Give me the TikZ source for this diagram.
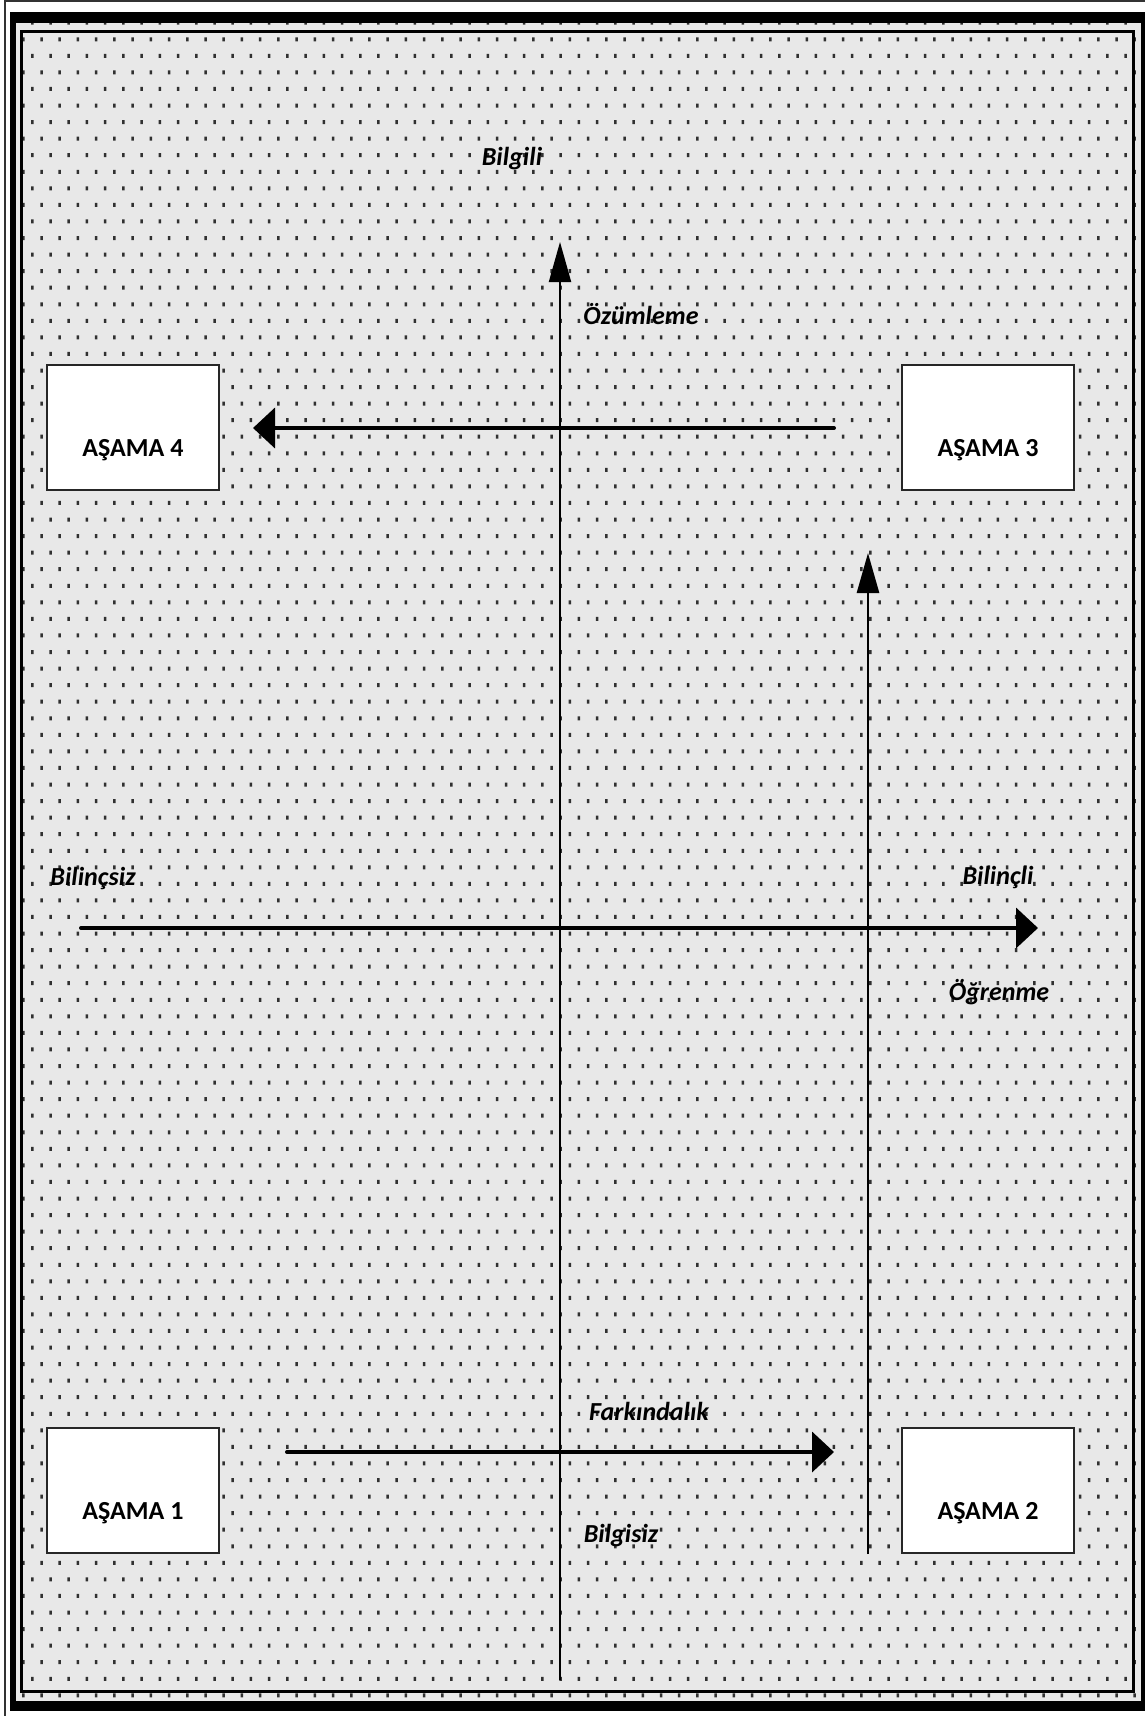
\documentclass[tikz,border=0pt]{standalone}
\usepackage{fontspec}
\setmainfont{Carlito}
\usetikzlibrary{arrows.meta}
\definecolor{bgc}{HTML}{E8E8E8}
\definecolor{dotc}{HTML}{303030}
\tikzset{
  stagebox/.style={draw=black!85, line width=1.8pt, fill=white, minimum width=172pt, minimum height=125pt, inner sep=0pt},
  stagetext/.style={font=\fontsize{26}{30}\selectfont\bfseries, anchor=base, inner sep=0pt},
  axislabel/.style={font=\fontsize{26}{30}\selectfont\bfseries\itshape, anchor=base, inner sep=0pt},
  harrow/.style={line width=4pt, -{Triangle[length=22pt,width=40pt]}},
  varrow/.style={-{Triangle[length=40pt,width=22pt]}}
}
\begin{document}
\begin{tikzpicture}[x=1pt,y=-1pt]
\useasboundingbox (0,0) rectangle (1145,1716);
\fill[white] (0,0) rectangle (1145,1716);
% outer thin lines
\draw[line width=2pt, black!80] (4.5,1716) -- (4.5,1) -- (1145,1);
% thick frame and patterned ground
\fill[black] (10,12) rectangle (1145,1711);
\fill[bgc] (16,23) rectangle (1141,1701);
\begin{scope}
\clip (16,23) rectangle (1141,1701);
\fill[dotc] \foreach \k in {0,...,101}{\foreach \j in {-1,...,61}{ ({32.3-9*mod(\k,2)+18.22*\j-1.25},{22.74+16.56*\k-2}) rectangle ++(2.5,4)}};
\end{scope}
\draw[line width=3pt] (21.5,31.5) rectangle (1133.5,1691);

% axes
\coordinate (vbot) at (560,1680);
\coordinate (vtop) at (560,242);
\coordinate (hleft) at (81,928);
\coordinate (hright) at (1038,928);
\draw[varrow, line width=2pt] (vbot) -- (vtop);
\draw[harrow, line cap=round] (hleft) -- (hright);

% stage boxes
\node[stagebox] (a4) at (133,427.5) {};
\node[stagebox] (a3) at (988,427.5) {};
\node[stagebox] (a1) at (133,1490.5) {};
\node[stagebox] (a2) at (988,1490.5) {};
\node[stagetext] (t4) at (133,456) {AŞAMA 4};
\node[stagetext] (t3) at (988,456) {AŞAMA 3};
\node[stagetext] (t1) at (133,1519) {AŞAMA 1};
\node[stagetext] (t2) at (988,1519) {AŞAMA 2};

% stage arrows
\coordinate (s34) at (834,428);
\coordinate (e34) at (253,428);
\draw[harrow, line cap=round] (s34) -- (e34);
\coordinate (s23) at (868,1554);
\coordinate (e23) at (868,553);
\draw[varrow, line width=2.7pt] (s23) -- (e23);
\coordinate (s12) at (287,1452);
\coordinate (e12) at (834,1452);
\draw[harrow, line cap=round] (s12) -- (e12);

% labels
\node[axislabel] (bilgili) at (512,165) {Bilgili};
\node[axislabel] (ozum) at (641,324) {Özümleme};
\node[axislabel] (bilincsiz) at (93,885) {Bilinçsiz};
\node[axislabel] (bilincli) at (998,884) {Bilinçli};
\node[axislabel] (ogrenme) at (999,1000) {Öğrenme};
\node[axislabel] (fark) at (649,1420) {Farkındalık};
\node[axislabel] (bilgisiz) at (621,1542) {Bilgisiz};
\end{tikzpicture}
\end{document}
